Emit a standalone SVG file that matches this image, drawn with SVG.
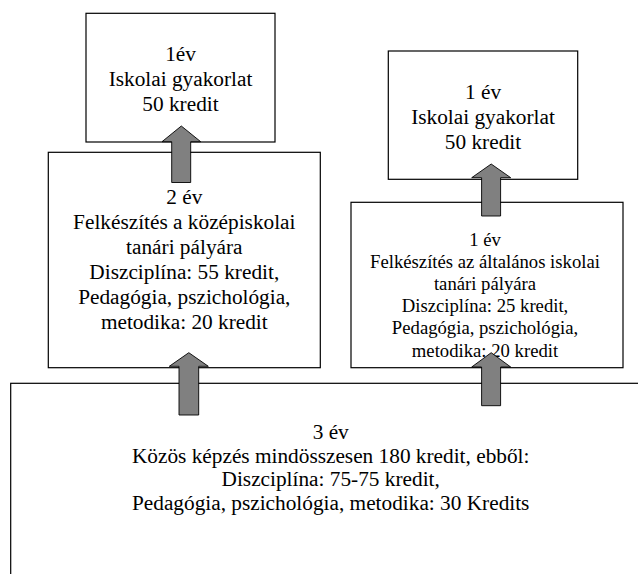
<svg xmlns="http://www.w3.org/2000/svg" width="638" height="574" viewBox="0 0 638 574">
<style>
.box{fill:#fff;stroke:#000;stroke-width:1.2}
text{font-family:'Liberation Serif','Times New Roman',serif;font-size:21.3px;fill:#000;text-anchor:middle}
.s{font-size:18.7px}
.arr{fill:#808080;stroke:#000;stroke-width:0.9;stroke-linejoin:miter}
</style>
<rect width="638" height="574" fill="#fff"/>
<g id="node-common">
<rect class="box" x="10.7" y="383.3" width="660" height="220"/>
<text><tspan x="330.7" y="438.5">3 év</tspan><tspan x="330.7" y="462.5">Közös képzés mindösszesen 180 kredit, ebből:</tspan><tspan x="330.7" y="486.3">Diszciplína: 75-75 kredit,</tspan><tspan x="330.7" y="510">Pedagógia, pszichológia, metodika: 30 Kredits</tspan></text>
</g>
<g id="node-secondary">
<rect class="box" x="48.3" y="152.3" width="272" height="215.4"/>
<text><tspan x="184.3" y="203.5">2 év</tspan><tspan x="184.3" y="228.5">Felkészítés a középiskolai</tspan><tspan x="184.3" y="253.5">tanári pályára</tspan><tspan x="184.3" y="278.5">Diszciplína: 55 kredit,</tspan><tspan x="184.3" y="303.5">Pedagógia, pszichológia,</tspan><tspan x="184.3" y="328.5">metodika: 20 kredit</tspan></text>
</g>
<g id="node-practice-left">
<rect class="box" x="86" y="13.3" width="189" height="128.7"/>
<text><tspan x="180.5" y="61">1év</tspan><tspan x="180.5" y="86">Iskolai gyakorlat</tspan><tspan x="180.5" y="111">50 kredit</tspan></text>
</g>
<g id="node-primary">
<rect class="box" x="351" y="202.3" width="272" height="165.4"/>
<text class="s"><tspan x="485" y="245.5">1 év</tspan><tspan x="485" y="267.7">Felkészítés az általános iskolai</tspan><tspan x="485" y="289.9">tanári pályára</tspan><tspan x="485" y="312.1">Diszciplína: 25 kredit,</tspan><tspan x="485" y="334.3">Pedagógia, pszichológia,</tspan><tspan x="485" y="356.5">metodika: 20 kredit</tspan></text>
</g>
<g id="node-practice-right">
<rect class="box" x="388.3" y="51" width="189.4" height="128.3"/>
<text><tspan x="483" y="99">1 év</tspan><tspan x="483" y="124">Iskolai gyakorlat</tspan><tspan x="483" y="149">50 kredit</tspan></text>
</g>
<g id="connectors">
<polygon class="arr" points="181.3,126 200.7,141.7 190.7,141.7 190.7,182.5 171.7,182.5 171.7,141.7 162,141.7"/>
<polygon class="arr" points="188.8,352.7 208.3,366.3 198.7,366.3 198.7,415 179,415 179,366.3 169.3,366.3"/>
<polygon class="arr" points="491.2,164 510.7,177.7 500.6,177.7 500.6,216 481.6,216 481.6,177.7 471.7,177.7"/>
<polygon class="arr" points="491.2,352.7 510.7,367 500.6,367 500.6,405.7 481.6,405.7 481.6,367 471.7,367"/>
</g>
</svg>
